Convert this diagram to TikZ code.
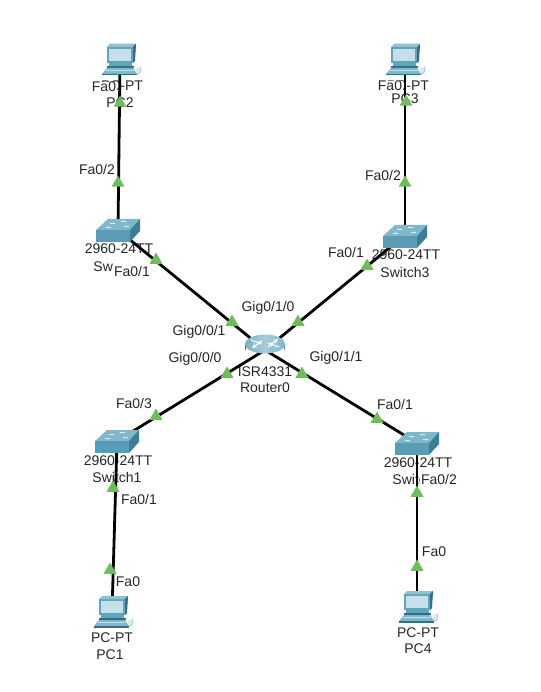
\documentclass[tikz,border=0pt]{standalone}
\usepackage{fontspec}
\setmainfont{Liberation Sans}
\usetikzlibrary{shapes.geometric}
\definecolor{linkgreen}{HTML}{6DBE5A}
\definecolor{txt}{HTML}{262626}
\definecolor{swtop}{HTML}{7FB8CA}
\definecolor{swfront}{HTML}{5A9CB6}
\definecolor{swside}{HTML}{3A7E98}
\definecolor{pcbody}{HTML}{5FA6BC}
\definecolor{pcscreen}{HTML}{C5E0EA}
\definecolor{pcdark}{HTML}{2F6F88}
\tikzset{
  x=1pt,y=-1pt,
  lbl/.style={font=\fontsize{14}{16}\selectfont,text=txt,inner sep=0pt},
  portlbl/.style={lbl,fill=white,inner xsep=1pt,inner ysep=0.5pt},
  link/.style={draw=black,line width=2.8pt},
  tri/.style={regular polygon,regular polygon sides=3,fill=linkgreen,inner sep=0pt,minimum size=15pt},
  dev/.style={inner sep=0pt,minimum size=0pt},
}
\newcommand{\pcicon}[2]{%
  \begin{scope}[shift={(#1,#2)}]
    % monitor
    \fill[pcdark] (-10,-16) -- (16,-16) -- (14,2) -- (-13,2) -- cycle;
    \fill[pcbody] (-13,-13) -- (13,-13) -- (13,3) -- (-13,3) -- cycle;
    \fill[pcbody!70!white] (-13,-13) -- (-10,-16) -- (16,-16) -- (13,-13) -- cycle;
    \fill[pcdark] (13,-13) -- (16,-16) -- (15,1) -- (13,3) -- cycle;
    \fill[pcscreen] (-11,-11) rectangle (11,1);
    % base
    \fill[pcbody] (-11,3) -- (12,3) -- (12,6) -- (-11,6) -- cycle;
    \fill[pcdark] (-13,6) -- (14,6) -- (14,8) -- (-13,8) -- cycle;
    % keyboard
    \fill[pcbody!80!white] (-13,8) -- (13,8) -- (17,14) -- (-18,14) -- cycle;
    \draw[pcscreen,line width=0.8pt] (-14,10.5) -- (14,10.5);
    \fill[pcdark] (-18,14) -- (17,14) -- (17,15.5) -- (-18,15.5) -- cycle;
    % mouse
    \fill[white!75!pcbody] (16,8) -- (21,7) -- (20,13) -- (16,14) -- cycle;
    \draw[pcdark!60,line width=0.4pt] (16,14) -- (20,13) -- (21,7);
  \end{scope}}
\newcommand{\swicon}[2]{%
  \begin{scope}[shift={(#1,#2)}]
    \fill[swtop] (-22,0) -- (-10,-11) -- (22,-11) -- (12,0) -- cycle;
    \fill[swfront] (-22,0) -- (12,0) -- (12,12) -- (-22,12) -- cycle;
    \fill[swside] (12,0) -- (22,-11) -- (22,1) -- (12,12) -- cycle;
    \fill[white!75!swtop] (-8,-7) rectangle (-3,-6) (3,-9) rectangle (8,-8) (6,-4) rectangle (11,-3) (-12,-3) rectangle (-7,-2);
  \end{scope}}
\newcommand{\routericon}[2]{%
  \begin{scope}[shift={(#1,#2)}]
    \path[left color=swside,right color=swside!80,middle color=swtop!60!white]
      (-20,-6) -- (-20,1) arc[start angle=180,end angle=360,x radius=20,y radius=9.5] -- (20,-6) -- cycle;
    \path[left color=swfront!80!white,right color=swtop,middle color=swtop!70!white] (0,-6) ellipse[x radius=20,y radius=9.5];
    \draw[white,line width=1.1pt,-stealth] (-14,-10) -- (-3,-6);
    \draw[white,line width=1.1pt,-stealth] (14,-3) -- (3,-7);
    \draw[white,line width=1.1pt,-stealth] (-3,-9) -- (-13,-2);
    \draw[white,line width=1.1pt,-stealth] (3,-3) -- (13,-11);
  \end{scope}}
\begin{document}
\begin{tikzpicture}
\path[fill=white] (0,0) rectangle (540,692);
\useasboundingbox (0,0) rectangle (540,692);
% device anchors
\node[dev] (pc2) at (120,62) {};
\node[dev] (pc3) at (405,60) {};
\node[dev] (sw0) at (118,230) {};
\node[dev] (sw3) at (405,235) {};
\node[dev] (r0) at (265,350) {};
\node[dev] (sw1) at (117,441) {};
\node[dev] (sw2) at (417,443) {};
\node[dev] (pc1) at (112,612) {};
\node[dev] (pc4) at (417,607) {};
% device labels
\node[lbl] (l2a) at (122,86) {PC-PT};
\node[lbl] (l2b) at (120,103) {PC2};
\node[lbl] (l3a) at (408,86) {PC-PT};
\node[lbl] (l3b) at (405,99) {PC3};
\node[lbl] (ls0a) at (119,249) {2960-24TT};
\node[lbl] (ls0b) at (118,266) {Switch0};
\node[lbl] (ls3a) at (406,255) {2960-24TT};
\node[lbl] (ls3b) at (405,272) {Switch3};
\node[lbl] (lra) at (265,372) {ISR4331};
\node[lbl] (lrb) at (265,388) {Router0};
\node[lbl] (ls1a) at (118,461) {2960-24TT};
\node[lbl] (ls1b) at (117,477) {Switch1};
\node[lbl] (ls2a) at (418,463) {2960-24TT};
\node[lbl] (ls2b) at (417,479) {Switch2};
\node[lbl] (l1a) at (112,638) {PC-PT};
\node[lbl] (l1b) at (110,655) {PC1};
\node[lbl] (l4a) at (418,633) {PC-PT};
\node[lbl] (l4b) at (418,649) {PC4};
% port labels
\node[portlbl] (p1) at (104,87) {Fa0};
\node[portlbl] (p2) at (390,86) {Fa0};
\node[portlbl] (p3) at (97,169) {Fa0/2};
\node[portlbl] (p4) at (383,175) {Fa0/2};
\node[portlbl,inner ysep=5pt] (p5) at (132,271) {Fa0/1};
\node[portlbl] (p6) at (346,252) {Fa0/1};
\node[portlbl] (p7) at (199,332) {Gig0/0/1};
\node[portlbl] (p8) at (268,308) {Gig0/1/0};
\node[portlbl] (p9) at (195,359) {Gig0/0/0};
\node[portlbl] (p10) at (336,358) {Gig0/1/1};
\node[portlbl] (p11) at (134,403) {Fa0/3};
\node[portlbl] (p12) at (395,404) {Fa0/1};
\node[portlbl] (p13) at (139,499) {Fa0/1};
\node[portlbl] (p14) at (439,479) {Fa0/2};
\node[portlbl] (p15) at (128,582) {Fa0};
\node[portlbl] (p16) at (434,552) {Fa0};
% links
\draw[link] (pc2) -- (sw0);
\draw[link] (pc3) -- (sw3);
\draw[link] (sw0) -- (r0);
\draw[link] (sw3) -- (r0);
\draw[link] (sw1) -- (r0);
\draw[link] (sw2) -- (r0);
\draw[link] (sw1) -- (pc1);
\draw[link] (sw2) -- (pc4);
% link state markers
\foreach \n/\x/\y in {t1/120/103,t2/406/102,t3/118/183,t4/405/183,t5/156/260,t6/367/266,
  t7/232/322,t8/298/322,t9/227/374,t10/302/374,t11/156/416,t12/377/419,t13/113/488,
  t14/417/493,t15/110/570,t16/417/567}
  \node[tri] (\n) at (\x,\y) {};
% icons
\pcicon{120}{60}
\pcicon{404}{60}
\pcicon{112}{612}
\pcicon{417}{607}
\swicon{118}{230}
\swicon{405}{236}
\swicon{117}{441}
\swicon{417}{443}
\routericon{265}{350}
\end{tikzpicture}
\end{document}
